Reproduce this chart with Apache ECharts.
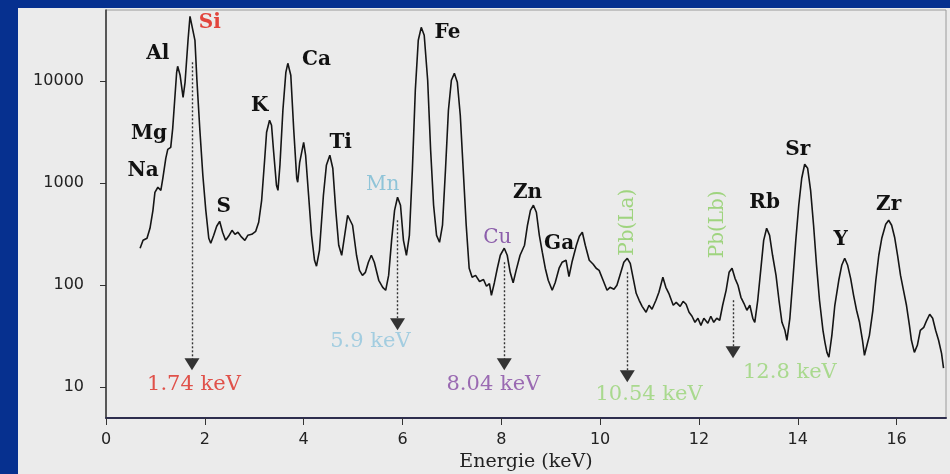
<!DOCTYPE html>
<html>
<head>
<meta charset="utf-8">
<script src="https://cdn.jsdelivr.net/npm/echarts@6/dist/echarts.min.js"></script>
<style>
html,body{margin:0;padding:0;background:#06308f;width:950px;height:474px;overflow:hidden;}
#c{position:absolute;left:18px;top:8px;width:932px;height:466px;background:#ebebeb;}
</style>
</head>
<body>
<div id="c"></div>
<script>
// Spectrum (energy in keV, counts)
const energy = [0.69,0.75,0.83,0.89,0.95,0.99,1.05,1.11,1.15,1.21,1.25,1.31,1.35,1.39,1.43,1.45,1.50,1.56,1.60,1.66,1.70,1.74,1.80,1.84,1.90,1.96,2.02,2.08,2.12,2.18,2.24,2.30,2.36,2.42,2.48,2.55,2.61,2.67,2.73,2.81,2.87,2.95,3.03,3.09,3.15,3.21,3.25,3.31,3.35,3.39,3.45,3.48,3.52,3.58,3.64,3.68,3.74,3.80,3.86,3.88,3.92,4.00,4.04,4.10,4.16,4.22,4.26,4.32,4.40,4.46,4.53,4.59,4.65,4.71,4.77,4.83,4.89,4.93,4.99,5.07,5.13,5.19,5.25,5.31,5.37,5.43,5.52,5.60,5.66,5.72,5.78,5.84,5.90,5.96,6.02,6.08,6.14,6.20,6.26,6.32,6.38,6.44,6.51,6.57,6.63,6.69,6.75,6.81,6.87,6.93,6.99,7.05,7.11,7.17,7.23,7.29,7.35,7.41,7.48,7.56,7.64,7.70,7.76,7.80,7.86,7.92,7.98,8.06,8.12,8.18,8.24,8.30,8.38,8.47,8.53,8.59,8.65,8.71,8.77,8.83,8.89,8.95,9.03,9.09,9.17,9.23,9.31,9.37,9.43,9.52,9.58,9.64,9.70,9.78,9.86,9.92,9.98,10.06,10.14,10.20,10.28,10.34,10.40,10.48,10.55,10.61,10.67,10.73,10.79,10.85,10.93,10.99,11.05,11.13,11.19,11.27,11.33,11.39,11.48,11.54,11.62,11.68,11.74,11.80,11.86,11.92,11.98,12.04,12.10,12.18,12.24,12.30,12.36,12.42,12.48,12.55,12.61,12.67,12.73,12.79,12.85,12.91,12.97,13.03,13.09,13.13,13.19,13.25,13.31,13.37,13.43,13.49,13.56,13.62,13.68,13.74,13.78,13.84,13.90,13.96,14.02,14.08,14.14,14.20,14.26,14.32,14.38,14.44,14.51,14.55,14.59,14.63,14.69,14.75,14.83,14.89,14.95,15.01,15.07,15.13,15.19,15.25,15.31,15.35,15.39,15.45,15.52,15.58,15.64,15.70,15.78,15.84,15.90,15.96,16.02,16.08,16.14,16.20,16.26,16.30,16.36,16.42,16.48,16.55,16.61,16.67,16.73,16.79,16.85,16.91,16.95];
const counts = [231,276,289,362,543,816,914,853,1120,1758,2154,2254,3459,6513,12250,14030,11450,6970,9780,25230,43370,43370,25230,10230,3310,1198,543,289,258,309,379,424,331,276,302,346,316,331,302,276,309,316,338,415,681,1680,3162,4150,3705,2107,956,853,1501,5198,12250,15010,11450,3310,1120,1023,1607,2523,1882,763,309,176,154,220,763,1501,1882,1403,543,247,197,309,486,508,388,197,140,125,134,168,197,168,112,95.5,89.3,125,276,543,729,609,276,197,309,1341,8165,25230,33830,28250,10230,2107,609,309,264,388,1341,5198,10230,11970,9780,4645,1341,388,147,120,125,109,114,97.8,104,79.8,106,147,197,231,197,134,106,140,197,247,388,543,609,520,309,211,147,112,89.3,106,147,168,176,122,168,247,302,331,247,176,161,147,140,112,89.3,95.5,91.4,100,125,168,184,164,117,83.5,71.3,62.2,54.4,63.7,58.2,71.3,85.4,120,95.5,83.5,63.7,68.1,62.2,69.7,65.1,54.4,49.7,43.4,47.5,40.5,47.5,42.4,49.7,43.4,47.5,45.4,63.7,89.3,134,147,117,100,76.3,66.6,56.9,63.7,47.5,43.4,71.3,140,276,362,309,197,125,71.3,43.4,36.2,28.9,47.5,112,276,609,1120,1536,1403,853,388,157,71.3,36.2,27.6,22.0,19.7,32.3,63.7,112,157,184,157,117,79.8,56.9,43.4,28.9,20.6,19.7,32.3,56.9,112,197,289,396,434,388,296,197,125,89.3,63.7,40.5,28.9,22.0,25.8,36.2,38.7,45.4,52.0,47.5,36.2,28.9,21.5,15.4];

// Element labels
const elemNames  = ['Na','Mg','Al','Si','S','K','Ca','Ti','Mn','Fe','Zn','Cu','Ga','Pb(La)','Pb(Lb)','Rb','Sr','Y','Zr'];
const elemX      = [0.75,0.87,1.05,2.10,2.38,3.11,4.26,4.75,5.60,6.91,8.53,7.92,9.17,10.57,12.38,13.33,14.00,14.87,15.84];
const elemY      = [1312,3090,18400,37050,582,5690,16430,2523,956,29560,798,289,258,415,396,651,2154,282,622];
const elemColors = ['#111111','#111111','#111111','#e2453d','#111111','#111111','#111111','#111111','#8fc4d8','#111111','#111111','#8c5eab','#111111','#9fd47f','#9fd47f','#111111','#111111','#111111','#111111'];
const elemRotate = [0,0,0,0,0,0,0,0,0,0,0,0,0,90,90,0,0,0,0];
const elemBold   = [1,1,1,1,1,1,1,1,0,1,1,0,1,0,0,1,1,1,1];

// Arrows (dotted, pointing down) and their energy labels
const arrowX      = [1.74,5.9,8.06,10.55,12.69];
const arrowTop    = [15350,434,168,134,71.3];
const arrowBottom = [16.8,41.5,16.8,12.8,22.0];
const keVText     = ['1.74 keV','5.9 keV','8.04 keV','10.54 keV','12.8 keV'];
const keVX        = [1.78,5.35,7.84,10.99,13.84];
const keVY        = [10.7,28.2,10.7,8.54,14.0];
const keVColors   = ['#e0514a','#a3cde0','#9a6ab2','#a9d98e','#a9d98e'];

if (energy.length !== counts.length) throw new Error('length mismatch ' + energy.length + ' vs ' + counts.length);

const spectrum = energy.map((e, i) => [e, counts[i]]);
const elemData = elemNames.map((n, i) => ({
  name: n, value: [elemX[i], elemY[i]],
  label: { color: elemColors[i], rotate: elemRotate[i], fontWeight: elemBold[i] ? 'bold' : 'normal' }
}));
const keVData = keVText.map((t, i) => ({
  name: t, value: [keVX[i], keVY[i]], label: { color: keVColors[i] }
}));
const arrows = arrowX.map((x, i) => [{ coord: [x, arrowTop[i]] }, { coord: [x, arrowBottom[i]] }]);

const chart = echarts.init(document.getElementById('c'), null, { renderer: 'canvas' });
chart.setOption({
  animation: false,
  backgroundColor: 'transparent',
  grid: { left: 88, right: 4, top: 2, bottom: 56, show: true, borderColor: '#9a9a9a', borderWidth: 1,
          containLabel: false, outerBoundsMode: 'none' },
  xAxis: {
    type: 'value', min: 0, max: 17, interval: 2,
    name: 'Energie (keV)', nameLocation: 'middle', nameGap: 34,
    nameTextStyle: { fontFamily: 'DejaVu Serif', fontSize: 19, color: '#222' },
    axisLine: { lineStyle: { color: '#2e2e4e', width: 2 } },
    axisTick: { length: 7, lineStyle: { color: '#333' } },
    axisLabel: { margin: 14, fontSize: 16, fontFamily: 'DejaVu Sans', color: '#222', showMaxLabel: false },
    splitLine: { show: false }
  },
  yAxis: {
    type: 'log', logBase: 10, min: 5, max: 50000,
    axisLine: { show: true, lineStyle: { color: '#333', width: 1.5 } },
    axisTick: { show: true, length: 6, lineStyle: { color: '#333' } },
    axisLabel: { margin: 22, fontSize: 16, fontFamily: 'DejaVu Sans', color: '#222',
      showMinLabel: false, showMaxLabel: false, formatter: v => String(Math.round(v)) },
    splitLine: { show: false }
  },
  series: [
    {
      type: 'line', data: spectrum, showSymbol: false, symbol: 'none',
      lineStyle: { color: '#151515', width: 1.6 },
      markLine: {
        silent: true, symbol: ['none', 'triangle'], symbolSize: [15, 12],
        lineStyle: { type: [2, 2], color: '#333', width: 1.4 },
        itemStyle: { color: '#111' },
        label: { show: false },
        data: arrows
      }
    },
    {
      type: 'scatter', data: elemData, symbolSize: 0, silent: true,
      itemStyle: { opacity: 1 },
      label: { show: true, position: 'inside', formatter: '{b}', opacity: 1,
        fontFamily: 'DejaVu Serif', fontSize: 20 }
    },
    {
      type: 'scatter', data: keVData, symbolSize: 0, silent: true,
      itemStyle: { opacity: 1 },
      label: { show: true, position: 'inside', formatter: '{b}', opacity: 1,
        fontFamily: 'DejaVu Serif', fontSize: 21 }
    }
  ]
});
</script>
</body>
</html>
